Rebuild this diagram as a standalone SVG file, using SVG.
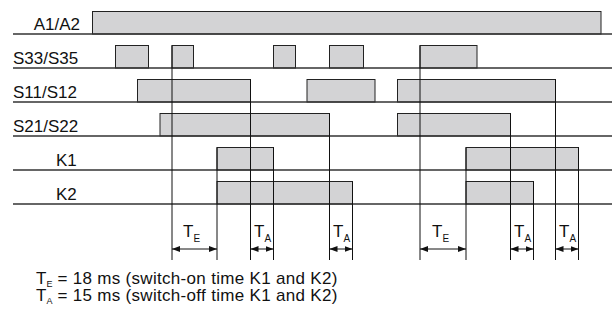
<svg xmlns="http://www.w3.org/2000/svg" width="612" height="336" viewBox="0 0 612 336">
<style>
.lbl{font-family:"Liberation Sans",Arial,sans-serif;font-size:17px;fill:#111}
.t{font-family:"Liberation Sans",Arial,sans-serif;font-size:17px;fill:#111}
.leg{font-family:"Liberation Sans",Arial,sans-serif;font-size:17px;fill:#111}
.sub{font-size:10px}
.lsub{font-size:9px}
.base{stroke:#333;stroke-width:1.4}
.pulse{fill:#d3d3d5;stroke:#222;stroke-width:1}
.v{stroke:#111;stroke-width:1;fill:none}
.arr{stroke:#111;stroke-width:1;fill:none;marker-start:url(#ah);marker-end:url(#ah)}
</style>
<defs>
<marker id="ah" viewBox="0 0 8 6" refX="8" refY="3" markerWidth="8" markerHeight="6" markerUnits="userSpaceOnUse" orient="auto-start-reverse">
<path d="M0,0 L8,3 L0,6 Z" fill="#111"/>
</marker>
</defs>
<rect width="612" height="336" fill="#fff"/>

<g id="row-A1A2">
<rect class="pulse" x="92.5" y="11.5" width="508.5" height="22.5"/>
<line class="base" x1="13" y1="34" x2="612" y2="34"/>
<text class="lbl" x="80" y="30" text-anchor="end">A1/A2</text>
</g>
<g id="row-S33S35">
<rect class="pulse" x="115.5" y="45.5" width="33" height="22.5"/>
<rect class="pulse" x="172" y="45.5" width="21.5" height="22.5"/>
<rect class="pulse" x="273.5" y="45.5" width="22" height="22.5"/>
<rect class="pulse" x="329.5" y="45.5" width="34" height="22.5"/>
<rect class="pulse" x="420" y="45.5" width="57" height="22.5"/>
<line class="base" x1="13" y1="68" x2="612" y2="68"/>
<text class="lbl" x="13" y="64">S33/S35</text>
</g>
<g id="row-S11S12">
<rect class="pulse" x="137.5" y="79.5" width="113" height="22.5"/>
<rect class="pulse" x="307" y="79.5" width="68" height="22.5"/>
<rect class="pulse" x="397.5" y="79.5" width="158" height="22.5"/>
<line class="base" x1="13" y1="102" x2="612" y2="102"/>
<text class="lbl" x="13" y="98">S11/S12</text>
</g>
<g id="row-S21S22">
<rect class="pulse" x="160" y="113.5" width="169.5" height="22.5"/>
<rect class="pulse" x="397.5" y="113.5" width="113" height="22.5"/>
<line class="base" x1="13" y1="136" x2="612" y2="136"/>
<text class="lbl" x="13" y="132">S21/S22</text>
</g>
<g id="row-K1">
<rect class="pulse" x="217" y="147.5" width="56.5" height="22.5"/>
<rect class="pulse" x="466" y="147.5" width="112.5" height="22.5"/>
<line class="base" x1="13" y1="170" x2="612" y2="170"/>
<text class="lbl" x="56" y="166">K1</text>
</g>
<g id="row-K2">
<rect class="pulse" x="217" y="181.5" width="135.5" height="22.5"/>
<rect class="pulse" x="466" y="181.5" width="67.5" height="22.5"/>
<line class="base" x1="13" y1="204" x2="612" y2="204"/>
<text class="lbl" x="56" y="200">K2</text>
</g>

<g id="connectors">
<line class="v" x1="172" y1="45.5" x2="172" y2="260"/>
<line class="v" x1="217" y1="147.5" x2="217" y2="260"/>
<line class="v" x1="250.5" y1="79.5" x2="250.5" y2="260"/>
<line class="v" x1="273.5" y1="147.5" x2="273.5" y2="260"/>
<line class="v" x1="329.5" y1="113.5" x2="329.5" y2="260"/>
<line class="v" x1="352.5" y1="181.5" x2="352.5" y2="260"/>
<line class="v" x1="420" y1="45.5" x2="420" y2="260"/>
<line class="v" x1="466" y1="147.5" x2="466" y2="260"/>
<line class="v" x1="510.5" y1="113.5" x2="510.5" y2="260"/>
<line class="v" x1="533.5" y1="181.5" x2="533.5" y2="260"/>
<line class="v" x1="555.5" y1="79.5" x2="555.5" y2="260"/>
<line class="v" x1="578.5" y1="147.5" x2="578.5" y2="260"/>
<line class="arr" x1="172" y1="249" x2="217" y2="249"/>
<line class="arr" x1="250.5" y1="249" x2="273.5" y2="249"/>
<line class="arr" x1="329.5" y1="249" x2="352.5" y2="249"/>
<line class="arr" x1="420" y1="249" x2="466" y2="249"/>
<line class="arr" x1="510.5" y1="249" x2="533.5" y2="249"/>
<line class="arr" x1="555.5" y1="249" x2="578.5" y2="249"/>
</g>

<g id="time-labels">
<text class="t" x="183" y="237">T<tspan class="sub" dy="5">E</tspan></text>
<text class="t" x="254" y="237">T<tspan class="sub" dy="5">A</tspan></text>
<text class="t" x="333" y="237">T<tspan class="sub" dy="5">A</tspan></text>
<text class="t" x="432" y="237">T<tspan class="sub" dy="5">E</tspan></text>
<text class="t" x="514" y="237">T<tspan class="sub" dy="5">A</tspan></text>
<text class="t" x="559" y="237">T<tspan class="sub" dy="5">A</tspan></text>
</g>

<g id="legend">
<text class="leg" x="36" y="283.5">T<tspan class="lsub" dy="3">E</tspan><tspan dy="-3" textLength="285"> = 18 ms (switch-on time K1 and K2)</tspan></text>
<text class="leg" x="36" y="301">T<tspan class="lsub" dy="3">A</tspan><tspan dy="-3" textLength="285"> = 15 ms (switch-off time K1 and K2)</tspan></text>
</g>
</svg>
